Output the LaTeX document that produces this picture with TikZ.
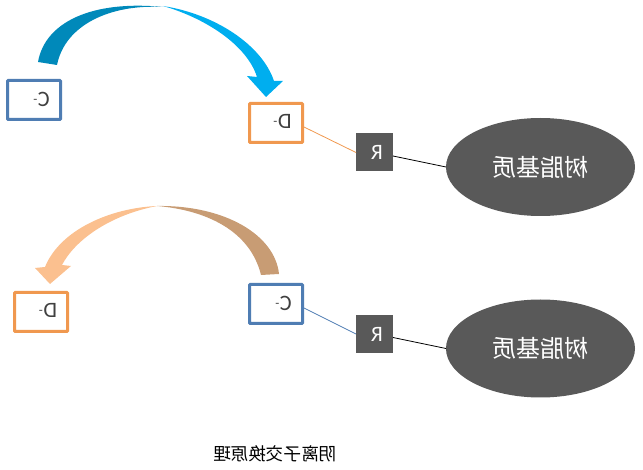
\documentclass[tikz,border=0pt]{standalone}
\usepackage{fontspec}
\setmainfont{Carlito}
\newfontfamily\cjk{Noto Sans CJK SC}
\definecolor{boxblue}{HTML}{4F7DB3}
\definecolor{boxorange}{HTML}{F0984F}
\definecolor{darkgrey}{HTML}{595959}
\definecolor{arrowdark}{HTML}{0089BA}
\definecolor{arrowlight}{HTML}{00AEEF}
\definecolor{arrowbrown}{HTML}{C89C74}
\definecolor{arrowpeach}{HTML}{FBC08F}
\definecolor{textgrey}{HTML}{404040}
\newcommand{\ionsym}[1]{\reflectbox{#1\kern0.5pt\raisebox{3pt}{\fontsize{13}{13}\selectfont -}}}
\tikzset{
  ionbox/.style={draw=#1,line width=3pt,rounded corners=0.8pt,fill=white,minimum width=53pt,minimum height=39pt,outer sep=1.5pt,inner sep=0pt},
  rsquare/.style={fill=darkgrey,minimum width=37pt,minimum height=38pt,inner sep=0pt,outer sep=0pt},
  matrixell/.style={ellipse,fill=darkgrey,minimum width=189pt,minimum height=98pt,inner sep=0pt,outer sep=0pt},
  ionlabel/.style={text=textgrey,font=\fontsize{22}{22}\selectfont,inner sep=0pt,anchor=base},
  rlabel/.style={text=white,font=\fontsize{22}{22}\selectfont,inner sep=0pt,anchor=base},
  cjklabel/.style={text=white,font=\cjk\fontsize{24}{24}\selectfont,inner sep=0pt},
  caption/.style={text=black,font=\cjk\fontsize{17.6}{18}\selectfont,inner sep=0pt},
  thin link/.style={line width=0.8pt}
}
\usetikzlibrary{shapes.geometric}
\begin{document}
\begin{tikzpicture}[x=1pt,y=-1pt]
\useasboundingbox (0,0) rectangle (643,470);
% top arrow
\fill[arrowdark] (38,62) .. controls (45,22) and (92,0) .. (163,7) .. controls (110,4) and (65,25) .. (57,65) -- cycle;
\fill[arrowlight] (163,6) .. controls (215,14) and (262,45) .. (274,81) -- (283,81) -- (266,97) -- (247,76) -- (257,77) .. controls (247,45) and (205,18) .. (163,6) -- cycle;
% bottom arrow
\fill[arrowbrown] (279,274) .. controls (275,235) and (225,205) .. (157,206) .. controls (205,210) and (250,230) .. (261,275) -- cycle;
\fill[arrowpeach] (157,206) .. controls (110,208) and (60,230) .. (45,267) -- (35,268) -- (50,284) -- (71,266) -- (62,265) .. controls (75,240) and (110,215) .. (157,206) -- cycle;
% top group
\node[ionbox=boxblue] (c1) at (34,100) {};
\node[ionbox=boxorange] (d1) at (276,123) {};
\node[rsquare] (r1) at (374.5,152.5) {};
\node[matrixell] (m1) at (540.5,167) {};
\node[ionlabel] (c1t) at (41.5,106.5) {\ionsym{C}};
\node[ionlabel] (d1t) at (282.5,129) {\ionsym{D}};
\node[rlabel] (r1t) at (377,160) {\reflectbox{R}};
\node[cjklabel] (m1t) at (540.5,167) {\reflectbox{树脂基质}};
\draw[boxorange,thin link] ([yshift=-4pt]d1.east) -- (r1.west);
\draw[black,thin link] ([yshift=-3.5pt]r1.east) -- (m1.west);
% bottom group
\node[ionbox=boxblue] (c2) at (276,304) {};
\node[ionbox=boxorange] (d2) at (41,312) {};
\node[rsquare] (r2) at (374.5,334) {};
\node[matrixell] (m2) at (540.5,348.5) {};
\node[ionlabel] (c2t) at (283.5,311) {\ionsym{C}};
\node[ionlabel] (d2t) at (48,318) {\ionsym{D}};
\node[rlabel] (r2t) at (377,342) {\reflectbox{R}};
\node[cjklabel] (m2t) at (540.5,348.5) {\reflectbox{树脂基质}};
\draw[boxblue,thin link] ([yshift=-4pt]c2.east) -- (r2.west);
\draw[black,thin link] ([yshift=-3.5pt]r2.east) -- (m2.west);
% caption
\node[caption] (cap) at (275,454) {\reflectbox{阴离子交换原理}};
\end{tikzpicture}
\end{document}
